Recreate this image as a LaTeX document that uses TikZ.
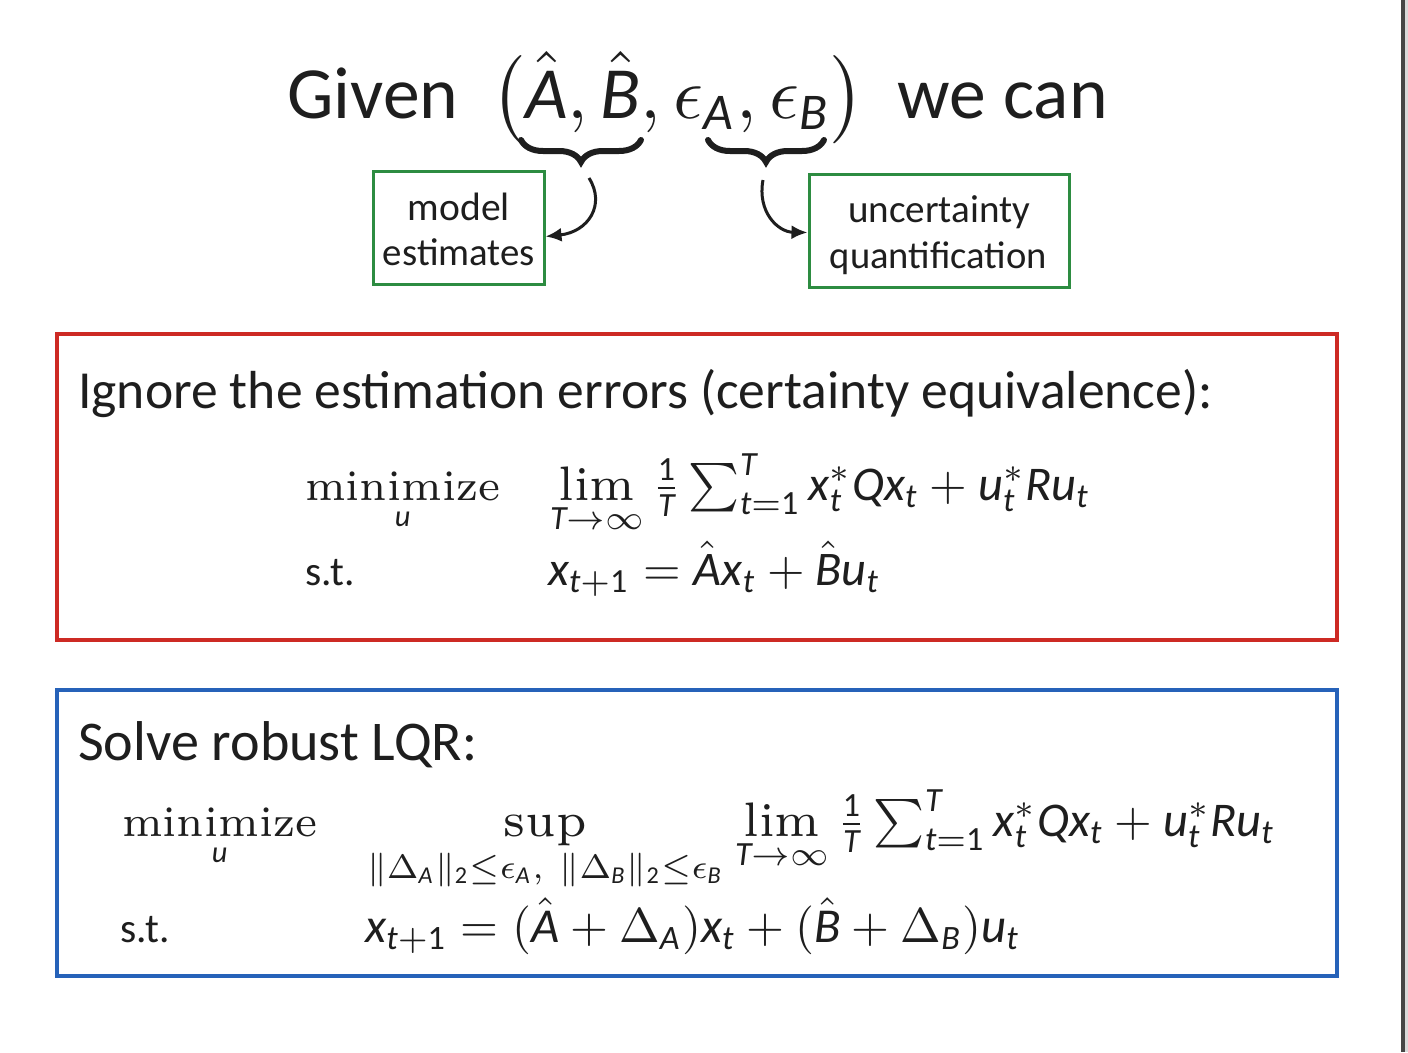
\documentclass[tikz,border=0pt]{standalone}
\usepackage{amsmath}
\usepackage{mathspec}
\setmathsfont(Digits,Latin){Carlito}
\newfontfamily\gs{Carlito}
\newfontfamily\lmsev{lmroman7-regular.otf}
\newcommand{\opname}[1]{\mathop{\mbox{\lmsev #1}}\limits}
\usetikzlibrary{decorations.pathreplacing,arrows.meta}
\definecolor{redb}{RGB}{205,42,36}
\definecolor{blueb}{RGB}{38,98,185}
\definecolor{greenb}{RGB}{45,140,65}
\definecolor{ink}{RGB}{30,30,30}
\definecolor{edgec}{RGB}{70,70,70}
\begin{document}
\begin{tikzpicture}[x=1pt,y=-1pt,
  txt/.style={inner sep=0pt, anchor=base west, text=ink},
  ctxt/.style={inner sep=0pt, anchor=base, text=ink},
  frame/.style={line width=3.5pt, inner sep=0pt},
  gbox/.style={draw=greenb, line width=3pt, inner sep=0pt},
  brc/.style={decorate, decoration={brace, mirror, amplitude=22pt}, line width=6pt, draw=ink, line cap=round},
  arr/.style={-{Latex[length=16pt,width=14pt]}, line width=3pt, draw=ink}]
\useasboundingbox (0,0) rectangle (1408,1052);
\fill[white] (0,0) rectangle (1408,1052);
\fill[edgec] (1401,0) rectangle (1405,1052);
\fill[black!15] (1405,0) rectangle (1408,1052);

% title
\node[txt] (title) at (287,118) {\resizebox{820pt}{!}{\gs Given\ \ $\bigl(\hat{A},\hat{B},\epsilon_A,\epsilon_B\bigr)$\ \ we can}};
\draw[brc] (521,140) -- (641,140);
\draw[brc] (708,140) -- (824,140);

% green boxes
\node[gbox, minimum width=171pt, minimum height=113pt] (me) at (458.5,227.5) {};
\node[gbox, minimum width=260pt, minimum height=113pt] (uq) at (939,230.5) {};
\node[ctxt] (me1) at (459,220) {\resizebox{102pt}{!}{\gs model}};
\node[ctxt] (me2) at (459,265) {\resizebox{152pt}{!}{\gs estimates}};
\node[ctxt] (uq1) at (939,222) {\resizebox{182pt}{!}{\gs uncertainty}};
\node[ctxt] (uq2) at (938.5,268) {\resizebox{217pt}{!}{\gs quantification}};

\coordinate (t1) at (589,178);
\coordinate (t2) at (763,180);
\draw[arr] (t1) .. controls (606,205) and (588,232) .. ([yshift=-9pt]me.east);
\draw[arr] (t2) .. controls (757,212) and (778,232) .. ([yshift=-2pt]uq.west);

% red box
\node[frame, draw=redb, minimum width=1280pt, minimum height=306pt] (ce) at (697,487) {};
\node[txt] (ce0) at (78,408) {\resizebox{1134pt}{!}{\gs Ignore the estimation errors (certainty equivalence):}};
\node[txt] (ce1) at (305,500) {\resizebox{195pt}{!}{$\displaystyle\opname{minimize}_{u}$}};
\node[txt] (ce2) at (550,500) {\resizebox{540pt}{!}{$\opname{lim}_{T\to\infty}\tfrac{1}{T}\sum_{t=1}^{T}x_t^*Qx_t+u_t^*Ru_t$}};
\node[txt] (ce3) at (305,585) {\resizebox{50pt}{!}{\gs s.t.}};
\node[txt] (ce4) at (548,585) {\resizebox{332pt}{!}{$x_{t+1}=\hat{A}x_t+\hat{B}u_t$}};

% blue box
\node[frame, draw=blueb, minimum width=1280pt, minimum height=286pt] (rb) at (697,833) {};
\node[txt] (rb0) at (78,760) {\resizebox{399pt}{!}{\gs Solve robust LQR:}};
\node[txt] (rb1) at (122,836) {\resizebox{195pt}{!}{$\displaystyle\opname{minimize}_{u}$}};
\node[txt] (rb2) at (367,836) {\resizebox{356pt}{!}{$\displaystyle\opname{sup}_{\|\Delta_A\|_2\le\epsilon_A,\ \|\Delta_B\|_2\le\epsilon_B}$}};
\node[txt] (rb3) at (735,836) {\resizebox{540pt}{!}{$\opname{lim}_{T\to\infty}\tfrac{1}{T}\sum_{t=1}^{T}x_t^*Qx_t+u_t^*Ru_t$}};
\node[txt] (rb4) at (120,942) {\resizebox{50pt}{!}{\gs s.t.}};
\node[txt] (rb5) at (365,942) {\resizebox{655pt}{!}{$x_{t+1}=(\hat{A}+\Delta_A)x_t+(\hat{B}+\Delta_B)u_t$}};
\end{tikzpicture}
\end{document}
